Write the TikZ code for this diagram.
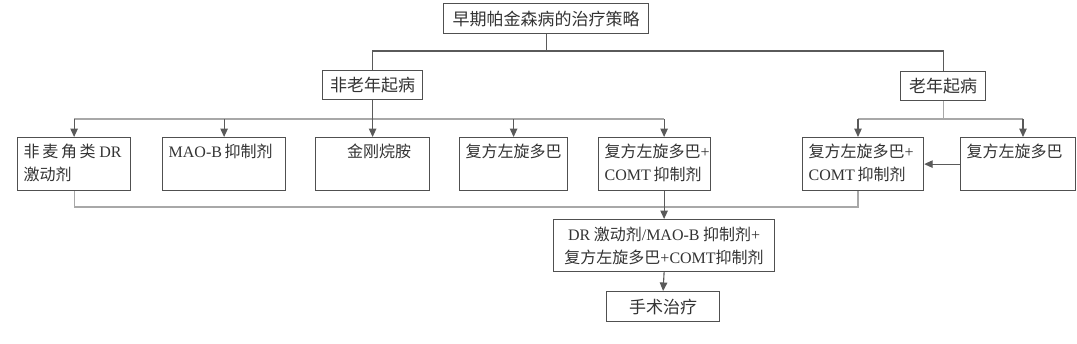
\documentclass[tikz,border=0pt]{standalone}
\usepackage{fontspec}
\setmainfont{Noto Sans CJK SC}
\newfontfamily\lat{Liberation Serif}
\usetikzlibrary{arrows.meta}
\definecolor{bd}{HTML}{505050}
\definecolor{ln}{HTML}{5A5A5A}
\definecolor{lt}{HTML}{A8A8A8}
\definecolor{tx}{HTML}{333333}
\newcommand{\latw}[1]{{\lat #1}}
\begin{document}
\begin{tikzpicture}[x=1pt,y=-1pt,
  box/.style={draw=bd, line width=1.2pt, inner sep=0pt, anchor=north west},
  head/.style={box, font=\fontsize{17}{22}\selectfont, text=tx, align=center},
  txt/.style={font=\fontsize{16}{23}\selectfont, text=tx, align=left, inner sep=0pt,
              anchor=north west, xshift=6.5pt, yshift=-7pt},
  ctxt/.style={txt, anchor=north, xshift=0pt},
  dk/.style={draw=ln, line width=1.1pt},
  lg/.style={draw=lt, line width=1.1pt},
  arr/.style={draw=ln, line width=1.1pt, -{Triangle[width=7.5pt,length=8.5pt]}}
]
\useasboundingbox (0,0) rectangle (1077,343);

% heading boxes
\node[head, minimum width=205pt, minimum height=30pt] (top) at (443,3) {早期帕金森病的治疗策略};
\node[head, minimum width=100pt, minimum height=29pt] (nonel) at (322,70) {非老年起病};
\node[head, minimum width=85pt, minimum height=29pt] (elder) at (900,71) {老年起病};

% row boxes
\node[box, minimum width=113pt, minimum height=53pt,
  label={[txt]north west:{非\,麦\,角\,类 \latw{DR}\\激动剂}}] (b1) at (17,137) {};
\node[box, minimum width=123pt, minimum height=53pt,
  label={[txt]north west:{\latw{MAO-B}\,抑制剂}}] (b2) at (162,137) {};
\node[box, minimum width=114pt, minimum height=53pt,
  label={[ctxt]north:{金刚烷胺}}] (b3) at (315,137) {};
\node[box, minimum width=108pt, minimum height=53pt,
  label={[txt]north west:{复方左旋多巴}}] (b4) at (459,137) {};
\node[box, minimum width=112pt, minimum height=53pt,
  label={[txt]north west:{复方左旋多巴\latw{+}\\\latw{COMT}\,抑制剂}}] (b5) at (598,137) {};
\node[box, minimum width=121pt, minimum height=53pt,
  label={[txt]north west:{复方左旋多巴\latw{+}\\\latw{COMT}\,抑制剂}}] (bA) at (802,137) {};
\node[box, minimum width=115pt, minimum height=53pt,
  label={[txt]north west:{复方左旋多巴}}] (bB) at (960,137) {};

% lower boxes
\node[box, minimum width=221pt, minimum height=52pt, align=center,
  font=\fontsize{16}{23}\selectfont, text=tx] (bot) at (553,219)
  {\latw{DR} 激动剂\latw{/MAO-B} 抑制剂\latw{+}\\复方左旋多巴\latw{+COMT}抑制剂};
\node[head, minimum width=113pt, minimum height=30pt] (surg) at (606,291) {手术治疗};

% coordinates
\coordinate (j1) at (546,51);
\coordinate (busA) at (0,119);
\coordinate (busB) at (0,207);
\coordinate (xA) at (858,0);
\coordinate (xB) at (1023,0);

% top split
\draw[dk] (top.south) -- (top.south |- j1);
\draw[dk] (nonel.north) |- (j1) -| (elder.north);

% left row
\draw[lg] (b1.north |- busA) -- (bot.north |- busA);
\draw[arr] (nonel.south) -- (b3.north);
\draw[arr] (b1.north |- busA) -- (b1.north);
\draw[arr] (b2.north |- busA) -- (b2.north);
\draw[arr] (b4.north |- busA) -- (b4.north);
\draw[arr] (bot.north |- busA) -- (bot.north |- b5.north);

% right row
\draw[lg] (elder.south) -- (elder.south |- busA);
\draw[lg] (xA |- busA) -- (xB |- busA);
\draw[arr] (xA |- busA) -- (xA |- bA.north);
\draw[arr] (xB |- busA) -- (xB |- bB.north);
\draw[arr] (bB.west) -- (bA.east);

% bottom bus
\draw[lg] (b1.south) -- (b1.south |- busB) -- (xA |- busB) -- (xA |- bA.south);
\draw[arr] (bot.north |- b5.south) -- (bot.north);
\draw[arr] (bot.south) -- (surg.north);
\end{tikzpicture}
\end{document}
